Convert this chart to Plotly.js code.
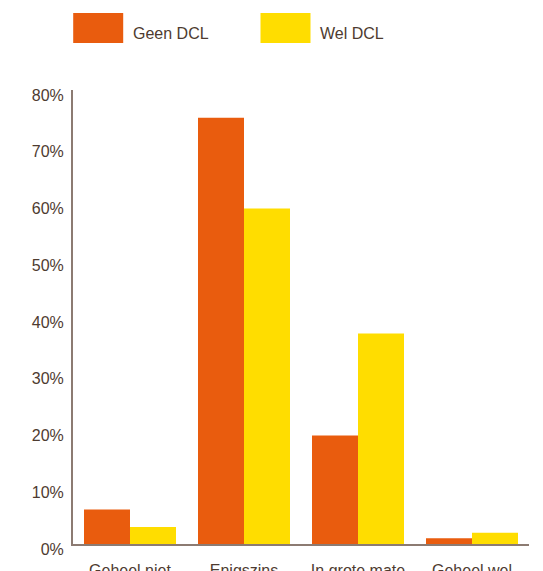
<!DOCTYPE html>
<html>
<head>
<meta charset="utf-8">
<script src="https://cdn.plot.ly/plotly-3.0.1.min.js"></script>
<style>html,body{margin:0;padding:0;background:#fff;}#chart{width:543px;height:571px;}</style>
</head>
<body>
<div id="chart"></div>
<script>
const categories = ["Geheel niet", "Enigszins", "In grote mate", "Geheel wel"];
const seriesNames = ["Geen DCL", "Wel DCL"];
const geenDCL = [6.1, 75.1, 19.1, 1.0];
const welDCL = [3.0, 59.1, 37.1, 2.0];
const yTickValues = [0, 10, 20, 30, 40, 50, 60, 70, 80];
const yTickLabels = ["0%", "10%", "20%", "30%", "40%", "50%", "60%", "70%", "80%"];

const colors = ["#E95C0E", "#FFDD00"];
const textColor = "#4E3B30";
const axisColor = "#8C7B72";
const fontFamily = "'Liberation Sans', Arial, Helvetica, sans-serif";

const traces = [geenDCL, welDCL].map((vals, i) => ({
  type: "bar",
  x: categories,
  y: vals,
  name: seriesNames[i],
  marker: {color: colors[i], line: {width: 0}},
  hoverinfo: "skip",
  showlegend: false
}));

const legendX = [72.7, 260];
const shapes = [];
const annotations = [];
seriesNames.forEach((n, i) => {
  shapes.push({type: "rect", xref: "paper", yref: "paper", xsizemode: "pixel", ysizemode: "pixel",
    xanchor: 0, yanchor: 1,
    x0: legendX[i] - 72.5, x1: legendX[i] - 72.5 + 50,
    y0: -(13 - 90), y1: -(43 - 90),
    fillcolor: colors[i], line: {width: 0}});
});

const W = 543, H = 571;
const m = {l: 72.5, r: 14, t: 90, b: 26.5};
const pw = W - m.l - m.r, ph = H - m.t - m.b;
seriesNames.forEach((n, i) => {
  annotations.push({
    xref: "paper", yref: "paper",
    x: (legendX[i] + 57.5 - m.l) / pw,
    y: 1 + (90 - 33) / ph,
    xanchor: "left", yanchor: "middle",
    text: n, showarrow: false,
    font: {family: fontFamily, size: 16, color: textColor}
  });
});

const layout = {
  width: W, height: H,
  margin: m,
  paper_bgcolor: "#fff", plot_bgcolor: "#fff",
  bargap: 0.193, bargroupgap: 0,
  barmode: "group",
  font: {family: fontFamily, size: 16, color: textColor},
  xaxis: {
    type: "category",
    range: [-0.5, 3.5],
    showline: true, linecolor: axisColor, linewidth: 2,
    showgrid: false, zeroline: false,
    ticks: "outside", ticklen: 11, tickcolor: "rgba(0,0,0,0)",
    tickfont: {family: fontFamily, size: 16, color: textColor},
    fixedrange: true
  },
  yaxis: {
    range: [0, 80],
    tickvals: yTickValues, ticktext: yTickLabels,
    showline: true, linecolor: axisColor, linewidth: 2,
    showgrid: false, zeroline: false,
    ticks: "", ticklabelstandoff: 4, ticklabelshift: 5,
    tickfont: {family: fontFamily, size: 16, color: textColor},
    fixedrange: true
  },
  shapes: shapes,
  annotations: annotations
};

Plotly.newPlot("chart", traces, layout, {displayModeBar: false, staticPlot: true});
</script>
</body>
</html>
